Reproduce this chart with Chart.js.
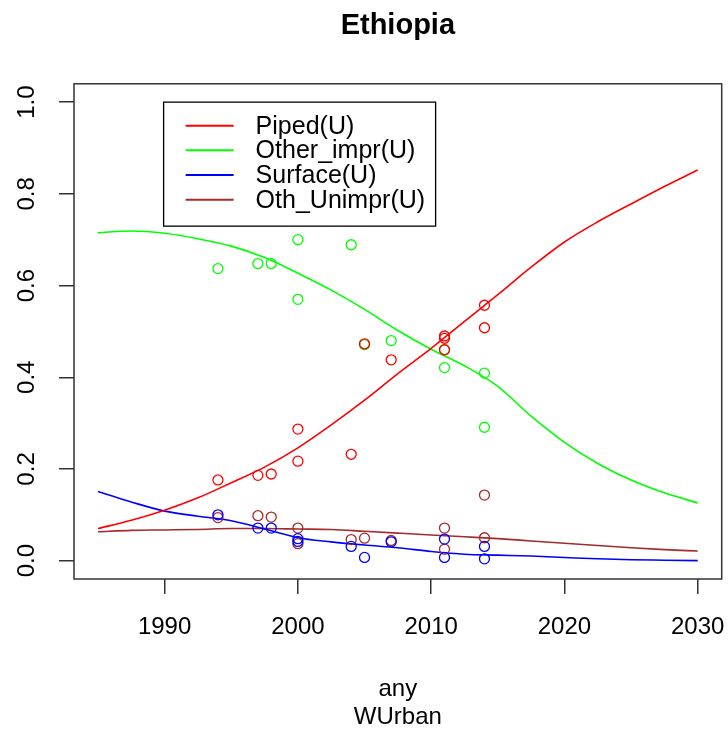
<!DOCTYPE html>
<html><head><meta charset="utf-8">
<script src="https://cdn.jsdelivr.net/npm/chart.js@4/dist/chart.umd.min.js"></script>
<style>html,body{margin:0;padding:0;background:#fff;overflow:hidden}#wrap{width:728px;height:731px;position:relative}canvas{display:block}</style>
</head><body><div id="wrap"><canvas id="c"></canvas></div>
<script>
const chartTitle = 'Ethiopia';
const xTitle = ['any', 'WUrban'];
const xTicks = [1990, 2000, 2010, 2020, 2030];
const yTicks = [0, 0.2, 0.4, 0.6, 0.8, 1.0];
const yTickLabels = ['0.0', '0.2', '0.4', '0.6', '0.8', '1.0'];
const seriesNames = ['Piped(U)', 'Other_impr(U)', 'Surface(U)', 'Oth_Unimpr(U)'];
const seriesColors = ['#FF0000', '#00FF00', '#0000FF', '#A52A2A'];

// fitted curves
const fitYears    = [1985, 1987.5, 1990, 1992.5, 1995, 1997.5, 2000, 2002.5, 2005, 2007.5, 2010, 2012.5, 2015, 2017.5, 2020, 2022.5, 2025, 2027.5, 2030];
const pipedFit    = [0.070, 0.088, 0.110, 0.137, 0.170, 0.204, 0.246, 0.296, 0.350, 0.408, 0.463, 0.522, 0.580, 0.640, 0.695, 0.739, 0.778, 0.816, 0.852];
const otherFit    = [0.715, 0.719, 0.714, 0.702, 0.686, 0.661, 0.627, 0.590, 0.548, 0.502, 0.461, 0.425, 0.380, 0.315, 0.258, 0.212, 0.176, 0.148, 0.126];
const surfaceFit  = [0.151, 0.128, 0.108, 0.097, 0.087, 0.069, 0.050, 0.041, 0.034, 0.028, 0.020, 0.014, 0.012, 0.010, 0.007, 0.004, 0.002, 0.001, 0.000];
const othUnimpFit = [0.063, 0.066, 0.067, 0.068, 0.070, 0.070, 0.069, 0.068, 0.064, 0.060, 0.056, 0.052, 0.048, 0.043, 0.038, 0.033, 0.028, 0.024, 0.021];

// survey observations
const pipedYears  = [1994, 1997, 1998, 2000, 2000, 2004, 2005, 2007, 2011, 2011, 2011, 2014, 2014];
const pipedObs    = [0.176, 0.186, 0.189, 0.287, 0.217, 0.232, 0.473, 0.438, 0.490, 0.485, 0.460, 0.557, 0.508];
const obsYears    = [1994, 1997, 1998, 2000, 2000, 2004, 2005, 2007, 2011, 2011, 2014, 2014];
const otherObs    = [0.637, 0.648, 0.648, 0.700, 0.570, 0.689, 0.471, 0.480, 0.460, 0.421, 0.409, 0.291];
const surfaceObs  = [0.100, 0.071, 0.071, 0.048, 0.042, 0.031, 0.007, 0.041, 0.047, 0.007, 0.031, 0.004];
const othUnimpObs = [0.094, 0.098, 0.095, 0.071, 0.037, 0.046, 0.049, 0.044, 0.071, 0.025, 0.143, 0.050];

const FONT = '"Liberation Sans", Arial, sans-serif';
const pts = (xs, ys) => xs.map((x, i) => ({x: x, y: ys[i]}));
const fits = [pipedFit, otherFit, surfaceFit, othUnimpFit];
const obs = [[pipedYears, pipedObs], [obsYears, otherObs], [obsYears, surfaceObs], [obsYears, othUnimpObs]];

const datasets = [];
obs.forEach((o, i) => datasets.push({
  label: seriesNames[i] + ' obs', data: pts(o[0], o[1]), showLine: false,
  pointStyle: 'circle', pointRadius: 5, pointBorderWidth: 1.3,
  pointBorderColor: seriesColors[i], pointBackgroundColor: 'rgba(0,0,0,0)',
  borderColor: seriesColors[i], isFit: false
}));
fits.forEach((f, i) => datasets.push({
  label: seriesNames[i], data: pts(fitYears, f), showLine: true,
  borderColor: seriesColors[i], borderWidth: 1.6, pointRadius: 0,
  cubicInterpolationMode: 'monotone', fill: false, isFit: true
}));

const deco = {
  id: 'deco',
  afterDraw(chart) {
    const ctx = chart.ctx, a = chart.chartArea;
    const xs = chart.scales.x, ys = chart.scales.y;
    ctx.save();
    // box
    ctx.strokeStyle = '#333'; ctx.lineWidth = 1.5;
    ctx.strokeRect(a.left, a.top, a.right - a.left, a.bottom - a.top);
    // rotated y tick labels
    ctx.fillStyle = '#000';
    ctx.font = '24px ' + FONT;
    ctx.textAlign = 'center'; ctx.textBaseline = 'middle';
    ys.ticks.forEach((t, i) => {
      const py = ys.getPixelForValue(t.value);
      ctx.save(); ctx.translate(27, py); ctx.rotate(-Math.PI / 2);
      ctx.fillText(yTickLabels[i], 0, 0); ctx.restore();
    });
    // legend
    const lx = xs.getPixelForValue(1990) - 1, ly = ys.getPixelForValue(1.0) + 0;
    const w = 272, h = 124, rowH = 24.7;
    ctx.fillStyle = '#fff'; ctx.fillRect(lx, ly, w, h);
    ctx.strokeStyle = '#000'; ctx.lineWidth = 1.3; ctx.strokeRect(lx, ly, w, h);
    ctx.textAlign = 'left';
    ctx.font = '25px ' + FONT;
    chart.data.datasets.filter(d => d.isFit).forEach((d, i) => {
      const ry = ly + 23.5 + i * rowH;
      ctx.strokeStyle = d.borderColor; ctx.lineWidth = 2;
      ctx.beginPath(); ctx.moveTo(lx + 22, ry); ctx.lineTo(lx + 70, ry); ctx.stroke();
      ctx.fillStyle = '#000'; ctx.fillText(d.label, lx + 92, ry + 1);
    });
    ctx.restore();
  }
};

new Chart(document.getElementById('c'), {
  type: 'line',
  data: {datasets: datasets},
  plugins: [deco],
  options: {
    responsive: true, maintainAspectRatio: false, animation: false,
    layout: {padding: {left: 0, right: 6, top: 0, bottom: 0}},
    plugins: {
      legend: {display: false}, tooltip: {enabled: false},
      title: {display: true, text: chartTitle, fullSize: false, color: '#000',
        font: {family: FONT, size: 29, weight: 'bold', lineHeight: 1.2},
        padding: {top: 9, bottom: 40}}
    },
    scales: {
      x: {
        type: 'linear', min: 1983.2, max: 2031.8,
        afterBuildTicks: s => { s.ticks = xTicks.map(v => ({value: v})); },
        afterFit: s => { s.height = 152; s.paddingLeft = 0; s.paddingRight = 0; },
        grid: {display: true, drawOnChartArea: false, drawTicks: true, tickLength: 15, color: '#333', lineWidth: 1.5},
        border: {display: false},
        ticks: {color: '#000', font: {family: FONT, size: 24}, padding: 19, maxRotation: 0, autoSkip: false,
          callback: v => String(v)},
        title: {display: true, text: xTitle, color: '#000', font: {family: FONT, size: 24, lineHeight: 1.1667}, padding: {top: 0, bottom: 0}}
      },
      y: {
        type: 'linear', min: -0.04, max: 1.04,
        afterBuildTicks: s => { s.ticks = yTicks.map(v => ({value: v})); },
        afterFit: s => { s.width = 74; s.paddingTop = 0; s.paddingBottom = 0; },
        grid: {display: true, drawOnChartArea: false, drawTicks: true, tickLength: 15, color: '#333', lineWidth: 1.5},
        border: {display: false},
        ticks: {display: false}
      }
    }
  }
});
</script></body></html>
